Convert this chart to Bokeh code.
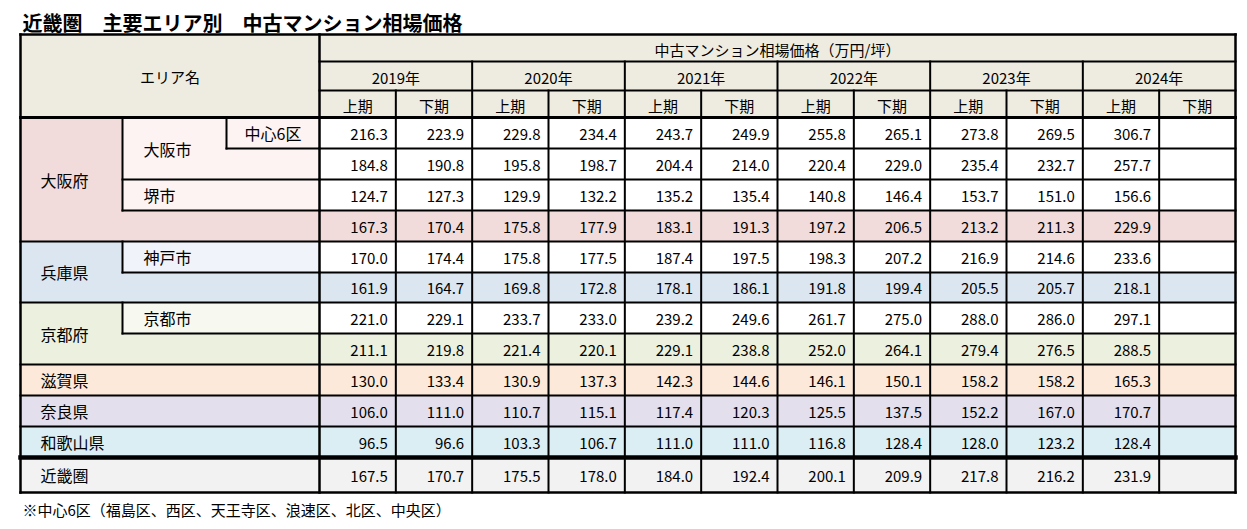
from bokeh.plotting import figure
from bokeh.models import Range1d
from bokeh.embed import file_html
from bokeh.resources import INLINE
from bokeh.core.properties import value

# ---------------- data ----------------
title_text = "近畿圏　主要エリア別　中古マンション相場価格"
footnote_text = "※中心6区（福島区、西区、天王寺区、浪速区、北区、中央区）"
header_main = "中古マンション相場価格（万円/坪）"
area_header = "エリア名"
years = ["2019年", "2020年", "2021年", "2022年", "2023年", "2024年"]
halves = ["上期", "下期"]

chuushin6 = [216.3, 223.9, 229.8, 234.4, 243.7, 249.9, 255.8, 265.1, 273.8, 269.5, 306.7, None]
osaka_city = [184.8, 190.8, 195.8, 198.7, 204.4, 214.0, 220.4, 229.0, 235.4, 232.7, 257.7, None]
sakai_city = [124.7, 127.3, 129.9, 132.2, 135.2, 135.4, 140.8, 146.4, 153.7, 151.0, 156.6, None]
osaka_pref = [167.3, 170.4, 175.8, 177.9, 183.1, 191.3, 197.2, 206.5, 213.2, 211.3, 229.9, None]
kobe_city = [170.0, 174.4, 175.8, 177.5, 187.4, 197.5, 198.3, 207.2, 216.9, 214.6, 233.6, None]
hyogo_pref = [161.9, 164.7, 169.8, 172.8, 178.1, 186.1, 191.8, 199.4, 205.5, 205.7, 218.1, None]
kyoto_city = [221.0, 229.1, 233.7, 233.0, 239.2, 249.6, 261.7, 275.0, 288.0, 286.0, 297.1, None]
kyoto_pref = [211.1, 219.8, 221.4, 220.1, 229.1, 238.8, 252.0, 264.1, 279.4, 276.5, 288.5, None]
shiga_pref = [130.0, 133.4, 130.9, 137.3, 142.3, 144.6, 146.1, 150.1, 158.2, 158.2, 165.3, None]
nara_pref = [106.0, 111.0, 110.7, 115.1, 117.4, 120.3, 125.5, 137.5, 152.2, 167.0, 170.7, None]
wakayama_pref = [96.5, 96.6, 103.3, 106.7, 111.0, 111.0, 116.8, 128.4, 128.0, 123.2, 128.4, None]
kinki_total = [167.5, 170.7, 175.5, 178.0, 184.0, 192.4, 200.1, 209.9, 217.8, 216.2, 231.9, None]

rows = [chuushin6, osaka_city, sakai_city, osaka_pref, kobe_city, hyogo_pref,
        kyoto_city, kyoto_pref, shiga_pref, nara_pref, wakayama_pref, kinki_total]

# ---------------- layout / style ----------------
W, H = 1240, 521
LEFT, RIGHT = 20, 1235
AREA_R, C1, C2 = 319, 122, 226
HDR = [34, 61, 90, 117]
ROW_Y = [117, 148, 179, 210, 241, 272, 302, 333, 364, 395, 426, 457, 492]
NCOL = 12
COLX = [AREA_R + i * (RIGHT - AREA_R) / NCOL for i in range(NCOL + 1)]

FONT = "Noto Sans CJK JP"
TAN = "#EEECE1"
PINK, PINK_L = "#F2DCDB", "#FCF3F2"
BLUE, BLUE_L = "#DCE6F1", "#F0F4FA"
GREEN, GREEN_L = "#EBF1DE", "#F7F9F0"
PEACH = "#FDE9D9"
LAV = "#E4DFEC"
CYAN = "#DAEEF3"
GRAY = "#F2F2F2"
WHITE = "#FFFFFF"

row_data_color = [WHITE, WHITE, WHITE, PINK, WHITE, BLUE, WHITE, GREEN, PEACH, LAV, CYAN, GRAY]

p = figure(width=W, height=H, x_range=Range1d(0, W), y_range=Range1d(H, 0),
           output_backend="svg", toolbar_location=None, min_border=0,
           x_axis_location=None, y_axis_location=None)
p.grid.visible = False
p.outline_line_color = None
p.background_fill_color = "white"
p.border_fill_color = "white"

# ---------------- fills ----------------
fl, fr, ft, fb, fc = [], [], [], [], []
def rect(l, r, t, b, c):
    fl.append(l); fr.append(r); ft.append(t); fb.append(b); fc.append(c)

rect(LEFT, RIGHT, HDR[0], HDR[3], TAN)
rect(LEFT, AREA_R, ROW_Y[0], ROW_Y[4], PINK)
rect(C1, AREA_R, ROW_Y[0], ROW_Y[3], PINK_L)
rect(LEFT, AREA_R, ROW_Y[4], ROW_Y[6], BLUE)
rect(C1, AREA_R, ROW_Y[4], ROW_Y[5], BLUE_L)
rect(LEFT, AREA_R, ROW_Y[6], ROW_Y[8], GREEN)
rect(C1, AREA_R, ROW_Y[6], ROW_Y[7], GREEN_L)
rect(LEFT, AREA_R, ROW_Y[8], ROW_Y[9], PEACH)
rect(LEFT, AREA_R, ROW_Y[9], ROW_Y[10], LAV)
rect(LEFT, AREA_R, ROW_Y[10], ROW_Y[11], CYAN)
rect(LEFT, AREA_R, ROW_Y[11], ROW_Y[12], GRAY)
for i, c in enumerate(row_data_color):
    rect(AREA_R, RIGHT, ROW_Y[i], ROW_Y[i + 1], c)

p.quad(left=fl, right=fr, top=ft, bottom=fb, fill_color=fc, line_color=None)

# ---------------- lines ----------------
sx0, sy0, sx1, sy1, sw = [], [], [], [], []
def seg(x0, y0, x1, y1, w=2):
    sx0.append(x0); sy0.append(y0); sx1.append(x1); sy1.append(y1); sw.append(w)

seg(LEFT, HDR[0], RIGHT, HDR[0], 2.5)
seg(LEFT, ROW_Y[-1], RIGHT, ROW_Y[-1], 2.5)
seg(LEFT, HDR[0], LEFT, ROW_Y[-1], 2.5)
seg(RIGHT, HDR[0], RIGHT, ROW_Y[-1], 2.5)
seg(AREA_R, HDR[0], AREA_R, ROW_Y[-1], 2.5)
seg(AREA_R, HDR[1], RIGHT, HDR[1], 2)
seg(AREA_R, HDR[2], RIGHT, HDR[2], 2)
seg(LEFT, HDR[3], RIGHT, HDR[3], 3)
for i in range(1, NCOL):
    top = HDR[1] if i % 2 == 0 else HDR[2]
    seg(COLX[i], top, COLX[i], ROW_Y[-1], 2)
for k in [4, 6, 8, 9, 10]:
    seg(LEFT, ROW_Y[k], RIGHT, ROW_Y[k], 2)
seg(LEFT, ROW_Y[11], RIGHT, ROW_Y[11], 4.5)
for k in [1, 2, 3, 5, 7]:
    seg(AREA_R, ROW_Y[k], RIGHT, ROW_Y[k], 2)
seg(C2, ROW_Y[1], AREA_R, ROW_Y[1], 2)
seg(C2, ROW_Y[0], C2, ROW_Y[1], 2)
seg(C1, ROW_Y[2], AREA_R, ROW_Y[2], 2)
seg(C1, ROW_Y[3], AREA_R, ROW_Y[3], 2)
seg(C1, ROW_Y[0], C1, ROW_Y[3], 2)
seg(C1, ROW_Y[5], AREA_R, ROW_Y[5], 2)
seg(C1, ROW_Y[4], C1, ROW_Y[5], 2)
seg(C1, ROW_Y[7], AREA_R, ROW_Y[7], 2)
seg(C1, ROW_Y[6], C1, ROW_Y[7], 2)

p.segment(x0=sx0, y0=sy0, x1=sx1, y1=sy1, line_width=sw, line_color="black", line_cap="square")

# ---------------- texts ----------------
def txt(xs, ys, ts, align, size="15px", style="normal", baseline="middle"):
    p.text(x=xs, y=ys, text=ts, text_align=align, text_baseline=baseline,
           text_font=value(FONT), text_font_size=size, text_font_style=style, text_color="black")

txt([22], [22], [title_text], "left", size="20px", style="bold")
txt([LEFT + 2], [509], [footnote_text], "left", size="15px")

txt([(LEFT + AREA_R) / 2], [(HDR[0] + HDR[3]) / 2], [area_header], "center")
txt([(AREA_R + RIGHT) / 2], [(HDR[0] + HDR[1]) / 2 + 1], [header_main], "center")
txt([(COLX[2 * i] + COLX[2 * i + 2]) / 2 for i in range(len(years))],
    [(HDR[1] + HDR[2]) / 2 + 1] * len(years), years, "center")
txt([(COLX[i] + COLX[i + 1]) / 2 for i in range(NCOL)],
    [(HDR[2] + HDR[3]) / 2 + 1] * NCOL, [halves[i % 2] for i in range(NCOL)], "center")

lab_x, lab_y, lab_t = [], [], []
def lab(x, y, t):
    lab_x.append(x); lab_y.append(y); lab_t.append(t)
lab(40, (ROW_Y[0] + ROW_Y[4]) / 2, "大阪府")
lab(143, (ROW_Y[0] + ROW_Y[2]) / 2, "大阪市")
lab(143, (ROW_Y[2] + ROW_Y[3]) / 2, "堺市")
lab(40, (ROW_Y[4] + ROW_Y[6]) / 2, "兵庫県")
lab(143, (ROW_Y[4] + ROW_Y[5]) / 2, "神戸市")
lab(40, (ROW_Y[6] + ROW_Y[8]) / 2, "京都府")
lab(143, (ROW_Y[6] + ROW_Y[7]) / 2, "京都市")
lab(40, (ROW_Y[8] + ROW_Y[9]) / 2, "滋賀県")
lab(40, (ROW_Y[9] + ROW_Y[10]) / 2, "奈良県")
lab(40, (ROW_Y[10] + ROW_Y[11]) / 2, "和歌山県")
lab(40, (ROW_Y[11] + ROW_Y[12]) / 2, "近畿圏")
txt(lab_x, lab_y, lab_t, "left", size="16px")
txt([(C2 + AREA_R) / 2], [(ROW_Y[0] + ROW_Y[1]) / 2], ["中心6区"], "center", size="16px")

nx, ny, nt = [], [], []
for r, vals in enumerate(rows):
    for c, v in enumerate(vals):
        if v is None:
            continue
        nx.append(COLX[c + 1] - 8)
        ny.append((ROW_Y[r] + ROW_Y[r + 1]) / 2 + 1)
        nt.append(f"{v:.1f}")
txt(nx, ny, nt, "right", size="15px")

open("out.html", "w").write(file_html(p, INLINE))
